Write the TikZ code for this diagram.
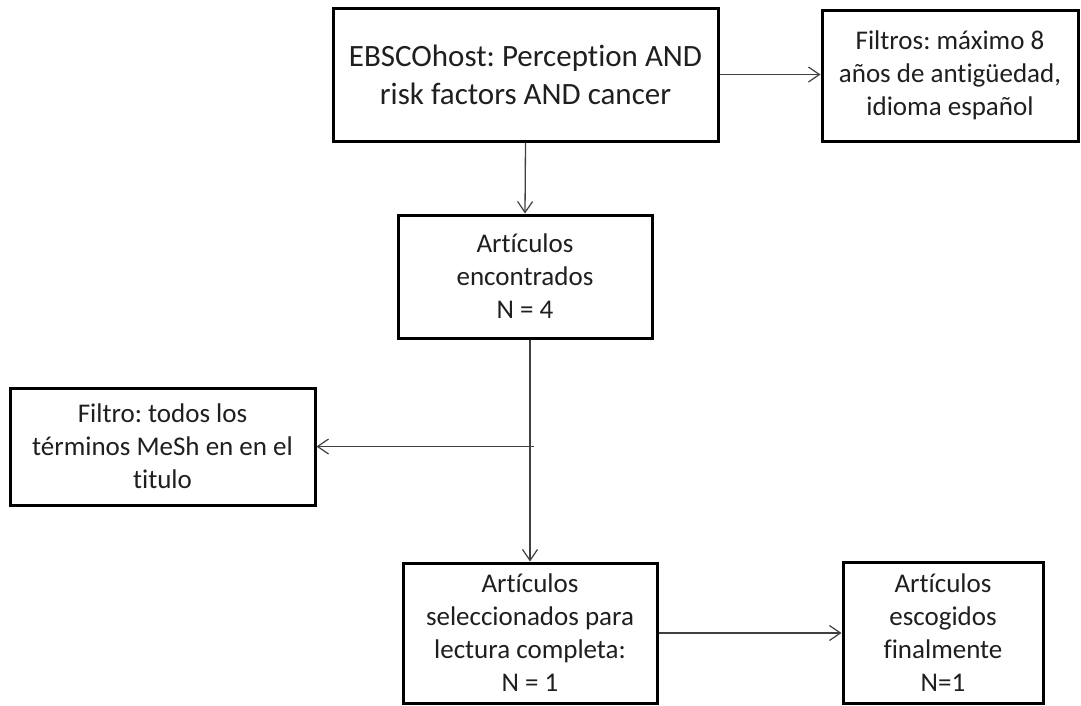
\documentclass[tikz,border=0pt]{standalone}
\usepackage{fontspec}
\setmainfont{Carlito}[Ligatures=NoCommon]
\usepackage{tikz}
\usetikzlibrary{calc,arrows.meta}
\frenchspacing

\begin{document}
\begin{tikzpicture}[x=1pt,y=-1pt,
		caja/.style={draw=black,line width=3pt,align=center,text=black!88,inner sep=0pt,
			font=\fontsize{27}{33}\selectfont},
		flecha/.style={line width=1.3pt,draw=black!75,-{Straight Barb[length=11pt,width=15pt,line width=1.2pt]}}]
		\useasboundingbox[fill=white] (0,0) rectangle (1081,705); %marco
		\node[caja,minimum width=385,minimum height=133,font=\fontsize{31}{38}\selectfont] (busqueda) at (525.5,74.5)
			{EBSCOhost: Perception AND\\risk factors AND cancer}; %búsqueda
		\node[caja,minimum width=256,minimum height=131] (filtros) at (950,75.5)
			{Filtros: máximo 8\\años de antigüedad,\\idioma español};
		\node[caja,minimum width=254,minimum height=123] (encontrados) at (525,276.5)
			{Artículos\\encontrados\\N = 4};
		\node[caja,minimum width=305,minimum height=117] (filtro) at (162.5,446.5)
			{Filtro: todos los\\términos MeSh en en el\\titulo};
		\node[caja,minimum width=254,minimum height=140] (seleccionados) at (530,633)
			{Artículos\\seleccionados para\\lectura completa:\\N = 1};
		\node[caja,minimum width=200,minimum height=141] (escogidos) at (943,632.5)
			{Artículos\\escogidos\\finalmente\\N=1};
		\coordinate (rama) at ($(seleccionados.north |- filtro.east)+(4,0)$); %rama
		\draw[flecha] (busqueda.east) -- (busqueda.east -| filtros.west);
		\draw[flecha] (busqueda.south) -- (encontrados.north);
		\draw[flecha] (encontrados.south -| seleccionados.north) -- (seleccionados.north);
		\draw[flecha] (rama) -- (filtro.east);
		\draw[flecha] (seleccionados.east) -- (seleccionados.east -| escogidos.west);
	\end{tikzpicture}
\end{document}
